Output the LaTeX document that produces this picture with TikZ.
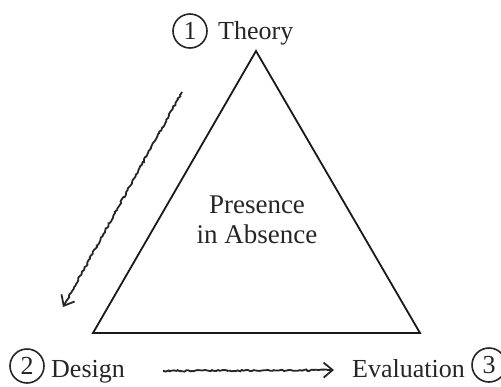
\documentclass[tikz,border=0pt]{standalone}
\usepackage{fontspec}
\setmainfont{Liberation Serif}
\usetikzlibrary{decorations.pathmorphing,arrows.meta}
\begin{document}
\begin{tikzpicture}[x=1pt,y=-1pt,
  lbl/.style={font=\fontsize{26}{30}\selectfont, inner sep=0pt, text=black!85},
  num/.style={circle, draw=black!85, line width=1.6pt, minimum size=34pt, inner sep=0pt, text=black!85, font=\fontsize{26}{30}\selectfont},
  edge/.style={line width=1.8pt, draw=black!90, line join=miter},
  scribble/.style={line width=1.8pt, draw=black!85, decorate,
    decoration={random steps, segment length=2pt, amplitude=0.8pt, pre length=1pt, post length=6pt},
    -{Straight Barb[length=9pt,width=15pt,line width=1.8pt]}},
]
\useasboundingbox (0,0) rectangle (501,386);
% triangle corners
\coordinate (A) at (256,51);
\coordinate (B) at (93,333);
\coordinate (C) at (420,333);
\draw[edge] (A) -- (B) -- (C) -- cycle;
% labels
\node[num] (n1) at (190,31) {1};
\node[lbl, anchor=base west] (theory) at (218,39) {Theory};
\node[num] (n2) at (27,366) {2};
\node[lbl, anchor=base west] (design) at (51,377) {Design};
\node[num] (n3) at (489,365) {3};
\node[lbl, anchor=base west] (eval) at (352,377) {Evaluation};
\node[lbl, font=\fontsize{27}{30}\selectfont, align=center, anchor=base] (center) at (257,243) {Presence\\in Absence};
% arrows
\coordinate (d1) at (182,92);
\coordinate (d2) at (63,307);
\draw[scribble] (d1) -- (d2);
\coordinate (h1) at (163,371);
\coordinate (h2) at (334,370);
\draw[scribble] (h1) -- (h2);
\end{tikzpicture}
\end{document}
